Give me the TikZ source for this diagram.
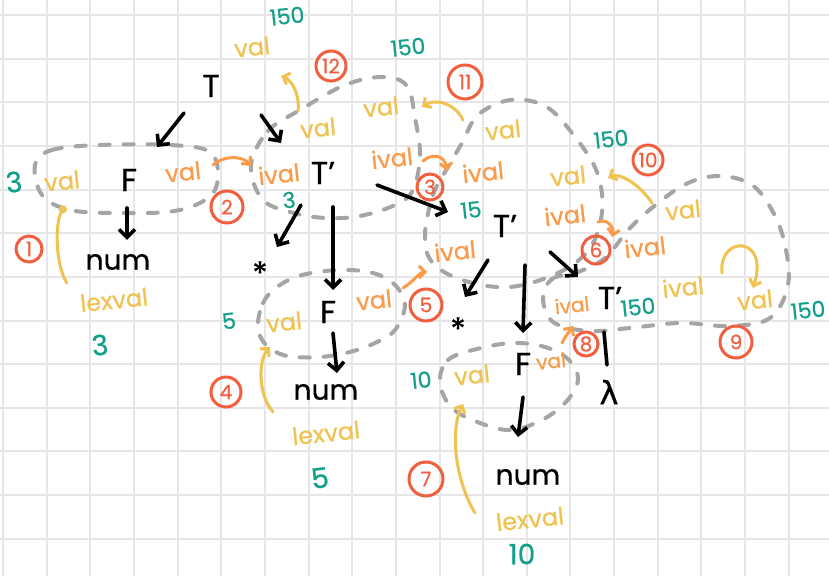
\documentclass[tikz,border=0pt]{standalone}
\usepackage{fontspec}
\setmainfont{Poppins}[FakeBold=0.6]
\newfontfamily\greekfont{DejaVu Sans}[FakeBold=0.6]
\usetikzlibrary{arrows.meta,calc}
\definecolor{gridgray}{HTML}{E6E6E6}
\definecolor{blobgray}{HTML}{A5A5A5}
\definecolor{valyellow}{HTML}{F0C24F}
\definecolor{ivalorange}{HTML}{FA9B4A}
\definecolor{resteal}{HTML}{12A08A}
\definecolor{stepred}{HTML}{F25F3F}

\begin{document}
\begin{tikzpicture}[x=0.5pt,y=-0.5pt,
  sym/.style={font=\fontsize{16}{16}\selectfont,inner sep=1pt},
  word/.style={font=\fontsize{14}{14}\selectfont,inner sep=1pt},
  yel/.style={valyellow,font=\fontsize{12}{12}\selectfont,inner sep=1pt,rotate=6},
  ora/.style={ivalorange,font=\fontsize{12}{12}\selectfont,inner sep=1pt,rotate=6},
  res/.style={resteal,font=\fontsize{11}{11}\selectfont,inner sep=0pt,rotate=6},
  big/.style={font=\fontsize{14}{14}\selectfont},
  small/.style={font=\fontsize{10}{10}\selectfont},
  stepno/.style={circle,draw=stepred,line width=1.5pt,text=stepred,inner sep=0pt,
    minimum size=15pt,font=\fontsize{10}{10}\selectfont},
  blob/.style={blobgray,line width=2pt,line cap=round,dash pattern=on 5pt off 7pt},
  treearr/.style={line width=1.8pt,line cap=round,
    -{Straight Barb[length=4pt,width=8pt]}},
  yarr/.style={valyellow,line width=1.5pt,line cap=round,
    -{Straight Barb[length=3pt,width=6pt]}},
  oarr/.style={ivalorange,line width=1.5pt,line cap=round,
    -{Straight Barb[length=3pt,width=6pt]}}]

\useasboundingbox (0,0) rectangle (829,576);
\fill[white] (0,0) rectangle (829,576);
\foreach \i in {0,...,18}
  \draw[gridgray,line width=1pt] ({3+43.65*\i},0) -- ({3+43.65*\i},576);
\foreach \j in {0,...,12}
  \draw[gridgray,line width=1pt] (0,{15+43.65*\j}) -- (829,{15+43.65*\j});

\draw[blob] plot[smooth cycle,tension=0.6] coordinates {(35,165) (52,150) (100,145) (170,145)
  (210,152) (218,178) (208,198) (175,211) (120,213) (70,210) (42,195)};
\draw[blob] plot[smooth cycle,tension=0.6] coordinates {(251,165) (268,131) (300,110) (345,85)
  (383,77) (407,86) (415,118) (420,155) (413,190) (395,205) (360,216) (325,218) (290,212) (262,199)};
\draw[blob] plot[smooth cycle,tension=0.6] coordinates {(425,235) (433,195) (448,167) (462,143)
  (478,115) (510,100) (545,106) (572,133) (597,172) (602,212) (590,248) (560,272) (510,287)
  (462,280) (432,262)};
\draw[blob] plot[smooth cycle,tension=0.6] coordinates {(543,298) (552,279) (578,272) (605,258)
  (630,228) (658,203) (688,183) (720,176) (752,185) (773,212) (785,245) (788,285) (770,318)
  (730,326) (680,323) (630,328) (588,331) (553,322)};
\draw[blob] plot[smooth cycle,tension=0.6] coordinates {(258,327) (263,303) (277,287) (302,275)
  (340,270) (373,273) (395,285) (405,305) (395,330) (375,343) (350,352) (320,357) (287,356)
  (266,345)};
\draw[blob] plot[smooth cycle,tension=0.6] coordinates {(440,383) (448,360) (477,349) (513,343)
  (545,347) (569,360) (578,380) (565,403) (540,421) (510,430) (480,423) (452,408)};

\node[sym] (T0) at (211,86) {T};
\node[sym] (Fa) at (129,180) {F};
\node[word] (numA) at (118,262) {num};
\node[sym] (Ta) at (323,173) {T’};
\node[sym] (starA) at (260,273) {*};
\node[sym] (Fb) at (328,312) {F};
\node[word] (numB) at (326,392) {num};
\node[sym] (Tb) at (505,226) {T’};
\node[sym] (starB) at (458,329) {*};
\node[sym] (Fc) at (523,364) {F};
\node[word] (numC) at (528,477) {num};
\node[sym] (Tc) at (610,298) {T’};
\node[sym] (lam) at (609,392) {\greekfont λ};

\draw[treearr] ($(T0)+(-27,27)$) -- ($(Fa)+(28,-33)$);
\draw[treearr] ($(T0)+(50,29)$) -- ($(Ta)+(-42,-30)$);
\draw[treearr] ($(Fa)+(-2,28)$) -- ($(numA)+(9,-22)$);
\draw[treearr] ($(Ta)+(-22,32)$) -- ($(starA)+(17,-26)$);
\draw[treearr] ($(Ta)+(10,34)$) -- ($(Fb)+(5,-22)$);
\draw[treearr] ($(Ta)+(54,12)$) -- ($(Tb)+(-57,-14)$);
\draw[treearr] ($(Fb)+(5,21)$) -- ($(numB)+(11,-19)$);
\draw[treearr] ($(Tb)+(-17,34)$) -- ($(starB)+(7,-32)$);
\draw[treearr] ($(Tb)+(20,39)$) -- ($(Fc)+(0,-31)$);
\draw[treearr] ($(Tb)+(45,26)$) -- ($(Tc)+(-32,-21)$);
\draw[treearr] ($(Fc)+(0,33)$) -- ($(numC)+(-10,-40)$);
\draw[line width=1.8pt,line cap=round] ($(Tc)+(-6,34)$) -- ($(lam)+(-2,-27)$);

\node[yel] (valFa) at (62,181) {val};
\node[yel] (lexA) at (114,300) {lexval};
\node[yel] (valT0) at (252,47) {val};
\node[yel] (valTa) at (318,128) {val};
\node[yel] (valTaR) at (381,107) {val};
\node[yel] (valTb) at (503,130) {val};
\node[yel] (valTbR) at (568,176) {val};
\node[yel] (valTc) at (683,210) {val};
\node[yel] (ivalTcY) at (683,287) {ival};
\node[yel] (valTcR) at (755,300) {val};
\node[yel] (valFb) at (284,322) {val};
\node[yel] (lexB) at (326,433) {lexval};
\node[yel] (valFc) at (472,375) {val};
\node[yel] (lexC) at (530,519) {lexval};

\node[ora] (valFaR) at (183,172) {val};
\node[ora] (ivalTa) at (279,174) {ival};
\node[ora] (ivalTaR) at (392,158) {ival};
\node[ora] (ivalTb) at (483,172) {ival};
\node[ora] (ivalTbL) at (455,251) {ival};
\node[ora] (ivalTbR) at (565,215) {ival};
\node[ora] (ivalTc) at (645,247) {ival};
\node[ora] (valFbR) at (374,300) {val};
\node[ora,small] (ivalTcL) at (572,305) {ival};
\node[ora,small] (valFcR) at (551,361) {val};

\node[res] (rT0) at (287,16) {150};
\node[res] (rTa) at (408,47) {150};
\node[res,big] (rFa) at (14,182) {3};
\node[res] (rTaI) at (289,200) {3};
\node[res] (rTbI) at (471,210) {15};
\node[res] (rTb) at (611,139) {150};
\node[res] (rTc) at (638,307) {150};
\node[res] (rTcR) at (808,310) {150};
\node[res] (rFb) at (229,321) {5};
\node[res,big] (rA) at (100,345) {3};
\node[res,big] (rB) at (320,478) {5};
\node[res] (rFc) at (421,380) {10};
\node[res,big,rotate=-6] (rC) at (522,554) {10};

\node[stepno,minimum size=13pt] (s1) at (29,249) {1};
\node[stepno,minimum size=16pt] (s2) at (227,207) {2};
\node[stepno,minimum size=13pt] (s3) at (430,187) {3};
\node[stepno] (s4) at (226,392) {4};
\node[stepno,minimum size=16pt] (s5) at (426,305) {5};
\node[stepno,minimum size=14pt] (s6) at (596,250) {6};
\node[stepno,minimum size=17pt] (s7) at (426,479) {7};
\node[stepno,minimum size=12pt] (s8) at (586,344) {8};
\node[stepno,minimum size=16pt] (s9) at (736,342) {9};
\node[stepno] (s10) at (648,160) {10};
\node[stepno,minimum size=17pt] (s11) at (465,82) {11};
\node[stepno] (s12) at (331,66) {12};

\draw[valyellow,line width=1.5pt,line cap=round,-{Circle[open,length=4pt]}]
  ($(lexA)+(-47,-17)$) .. controls ($(lexA)+(-59,-35)$) and ($(valFa)+(-7,41)$) .. ($(valFa)+(3,25)$);
\draw[oarr] ($(valFaR)+(30,-7)$) .. controls ($(valFaR)+(39,-16)$) and ($(ivalTa)+(-37,-19)$) .. ($(ivalTa)+(-28,-8)$);
\draw[oarr] ($(ivalTaR)+(31,3)$) .. controls ($(ivalTaR)+(40,-5)$) and ($(ivalTb)+(-38,-17)$) .. ($(ivalTb)+(-36,-1)$);
\draw[yarr] ($(lexB)+(-53,-21)$) .. controls ($(lexB)+(-68,-38)$) and ($(valFb)+(-26,38)$) .. ($(valFb)+(-14,25)$);
\draw[oarr] ($(valFbR)+(29,-12)$) .. controls ($(valFbR)+(39,-18)$) and ($(ivalTbL)+(-35,21)$) .. ($(ivalTbL)+(-28,21)$);
\draw[oarr] ($(ivalTbR)+(33,7)$) .. controls ($(ivalTbR)+(43,3)$) and ($(ivalTc)+(-31,-19)$) .. ($(ivalTc)+(-33,-10)$);
\draw[yarr] ($(lexC)+(-55,-6)$) .. controls ($(lexC)+(-75,-39)$) and ($(valFc)+(-22,55)$) .. ($(valFc)+(-9,29)$);
\draw[oarr] ($(valFcR)+(11,-18)$) .. controls ($(valFcR)+(15,-26)$) and ($(ivalTcL)+(-3,27)$) .. ($(ivalTcL)+(1,21)$);
\draw[yarr] ($(ivalTcY)+(39,-14)$) .. controls ($(ivalTcY)+(35,-52)$) and ($(valTcR)+(15,-65)$) .. ($(valTcR)+(-2,-12)$);
\draw[yarr] ($(valTc)+(-31,-7)$) .. controls ($(valTc)+(-43,-25)$) and ($(valTbR)+(52,-4)$) .. ($(valTbR)+(40,2)$);
\draw[yarr] ($(valTb)+(-40,-10)$) .. controls ($(valTb)+(-48,-27)$) and ($(valTaR)+(54,-9)$) .. ($(valTaR)+(41,0)$);
\draw[yarr] ($(valTa)+(-20,-17)$) .. controls ($(valTa)+(-18,-33)$) and ($(valT0)+(40,33)$) .. ($(valT0)+(29,29)$);

\end{tikzpicture}
\end{document}
